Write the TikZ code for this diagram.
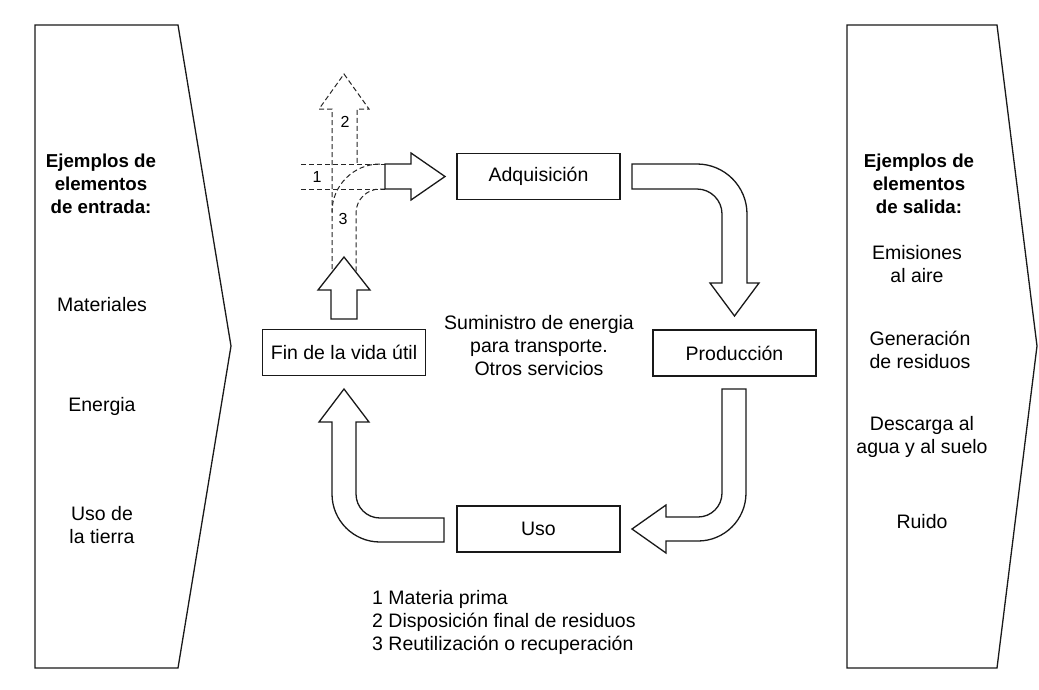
\documentclass[tikz,border=0pt]{standalone}
\usepackage{fontspec}
\setmainfont{Liberation Sans}
\newcommand{\fsz}{\fontsize{19.5}{23}\selectfont}
\newcommand{\fsl}{\fontsize{16}{18}\selectfont}
\tikzset{
  box/.style={draw=black!90, line width=1.3pt, minimum width=163pt, minimum height=46pt, inner sep=0pt, font=\fsz},
  arr/.style={draw=black!90, line width=1.3pt, fill=white, line join=miter},
  dsh/.style={draw=black!85, line width=1pt, dash pattern=on 5pt off 3pt},
  txt/.style={align=center, font=\fsz, inner sep=0pt},
  panel/.style={draw=black!90, line width=1.3pt}
}
\begin{document}
\begin{tikzpicture}[x=1pt,y=-1pt]
\useasboundingbox[fill=white] (0,0) rectangle (1039,689);

% side panels
\draw[panel] (35,25) -- (178,25) -- (231,346) -- (178,668) -- (35,668) -- cycle;
\draw[panel] (847,25) -- (997,25) -- (1037,346) -- (997,668) -- (847,668) -- cycle;

\node[txt, font=\fontsize{18.7}{23}\selectfont\bfseries] (inh) at (101,184) {Ejemplos de\\elementos\\de entrada:};
\node[txt] (in1) at (102,305) {Materiales};
\node[txt] (in2) at (102,406) {Energia};
\node[txt] (in3) at (102,525) {Uso de\\la tierra};

\node[txt, font=\fontsize{18.7}{23}\selectfont\bfseries] (outh) at (919,184) {Ejemplos de\\elementos\\de salida:};
\node[txt] (out1) at (917,264) {Emisiones\\al aire};
\node[txt] (out2) at (920,350) {Generación\\de residuos};
\node[txt] (out3) at (922,437) {Descarga al\\agua y al suelo};
\node[txt] (out4) at (922,522) {Ruido};

% boxes
\node[box] (adq) at (538.5,176.5) {Adquisición};
\node[box] (prod) at (734.5,353) {Producción};
\node[box] (uso) at (538.5,529) {Uso};
\node[box] (fin) at (344,352.5) {Fin de la vida útil};

\node[txt] (mid) at (539,346) {Suministro de energia\\para transporte.\\Otros servicios};

\node[align=left, font=\fsz, inner sep=0pt, anchor=west] (leg) at (372,622) {1 Materia prima\\2 Disposición final de residuos\\3 Reutilización o recuperación};

% dashed options
\draw[dsh] (332,285) -- (332,109) -- (319,109) -- (344,74) -- (369,109) -- (357,109) -- (357,164);
\draw[dsh] (301,164) -- (385,164);
\draw[dsh] (301,189) -- (385,189);
\draw[dsh] (380,164) .. controls (353.5,164) and (332,185.5) .. (332,212);
\draw[dsh] (385,189) -- (380,189) .. controls (366.7,189) and (356,199.7) .. (356,213) -- (356,285);
\node[font=\fsl, inner sep=0pt] (n1) at (317,177) {1};
\node[font=\fsl, inner sep=0pt] (n2) at (345,122) {2};
\node[font=\fsl, inner sep=0pt] (n3) at (343,219) {3};

% solid arrow to Adquisicion
\draw[arr] (385,164) -- (411,164) -- (411,153) -- (445,176.5) -- (411,200) -- (411,189) -- (385,189) -- cycle;

% small up arrow above Fin
\draw[arr] (331,319) -- (331,290) -- (318,290) -- (344,257) -- (370,290) -- (357,290) -- (357,319) -- cycle;

% Adquisicion -> Produccion
\draw[arr] (632,164) -- (697,164) .. controls (724.6,164) and (747,186.4) .. (747,214) -- (747,283) -- (759,283) -- (734.5,316) -- (710,283) -- (722,283) -- (722,214) .. controls (722,200.2) and (710.8,189) .. (697,189) -- (632,189) -- cycle;

% Produccion -> Uso
\draw[arr] (722,389) -- (746,389) -- (746,493) .. controls (746,519.5) and (724.5,541) .. (698,541) -- (666,541) -- (666,553) -- (632,529) -- (666,505) -- (666,517) -- (698,517) .. controls (711.3,517) and (722,506.3) .. (722,493) -- cycle;

% Uso -> Fin
\draw[arr] (444,518) -- (444,542) -- (380,542) .. controls (353.5,542) and (332,520.5) .. (332,494) -- (332,422) -- (319,422) -- (344,389) -- (369,422) -- (356,422) -- (356,494) .. controls (356,507.3) and (366.7,518) .. (380,518) -- cycle;
\end{tikzpicture}
\end{document}
